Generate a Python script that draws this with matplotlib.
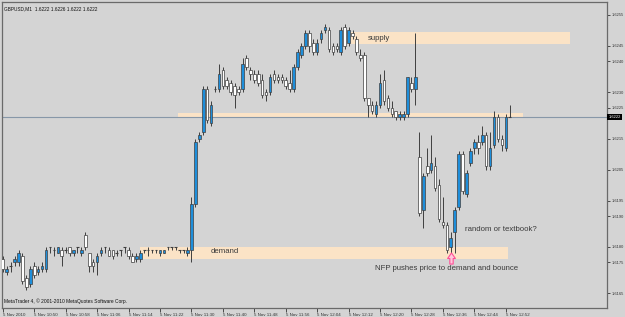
import matplotlib
matplotlib.use("Agg")
import matplotlib.pyplot as plt
from matplotlib.path import Path
import numpy as np

# ---------------- data (GBPUSD M1, 5 Nov 2010) ----------------
opens = [1.6176, 1.6172, 1.6174, 1.6175, 1.6175, 1.6177, 1.6170, 1.6168, 1.6174, 1.6172,
         1.6173, 1.6173, 1.6180, 1.6179, 1.6178, 1.6179, 1.6179, 1.6180, 1.6178, 1.6180,
         1.6178, 1.6184, 1.6178, 1.6175, 1.6175, 1.6178, 1.6180, 1.6179, 1.6179, 1.6178,
         1.6179, 1.6180, 1.6179, 1.6177, 1.6176, 1.6176, 1.6179, 1.6179, 1.6179, 1.6179,
         1.6178, 1.6178, 1.6180, 1.6180, 1.6180, 1.6179, 1.6179, 1.6178, 1.6179, 1.6194,
         1.6215, 1.6217, 1.6231, 1.6220, 1.6231, 1.6231, 1.6237, 1.6234, 1.6233, 1.6232,
         1.6231, 1.6231, 1.6241, 1.6237, 1.6236, 1.6236, 1.6234, 1.6230, 1.6230, 1.6236,
         1.6235, 1.6235, 1.6234, 1.6233, 1.6231, 1.6238, 1.6242, 1.6245, 1.6249, 1.6246,
         1.6243, 1.6247, 1.6250, 1.6250, 1.6245, 1.6245, 1.6243, 1.6251, 1.6246, 1.6249,
         1.6247, 1.6242, 1.6242, 1.6228, 1.6226, 1.6223, 1.6226, 1.6234, 1.6228, 1.6225,
         1.6224, 1.6222, 1.6222, 1.6223, 1.6233, 1.6231, 1.6209, 1.6192, 1.6206, 1.6205,
         1.6206, 1.6200, 1.6188, 1.6187, 1.6180, 1.6185, 1.6193, 1.6210, 1.6197, 1.6207,
         1.6212, 1.6214, 1.6214, 1.6216, 1.6206, 1.6213, 1.6222, 1.6215, 1.6212, 1.6222]
highs = [1.6177, 1.6174, 1.6175, 1.6177, 1.6179, 1.6178, 1.6171, 1.6174, 1.6175, 1.6174,
         1.6175, 1.6180, 1.6180, 1.6180, 1.6180, 1.6180, 1.6180, 1.6180, 1.6179, 1.6180,
         1.6180, 1.6185, 1.6178, 1.6176, 1.6178, 1.6180, 1.6180, 1.6180, 1.6179, 1.6179,
         1.6179, 1.6180, 1.6180, 1.6178, 1.6178, 1.6179, 1.6179, 1.6180, 1.6179, 1.6179,
         1.6179, 1.6179, 1.6180, 1.6180, 1.6180, 1.6179, 1.6179, 1.6180, 1.6196, 1.6215,
         1.6217, 1.6232, 1.6232, 1.6227, 1.6232, 1.6239, 1.6238, 1.6235, 1.6234, 1.6233,
         1.6232, 1.6241, 1.6242, 1.6238, 1.6237, 1.6237, 1.6236, 1.6231, 1.6236, 1.6237,
         1.6236, 1.6236, 1.6235, 1.6237, 1.6239, 1.6244, 1.6246, 1.6250, 1.6250, 1.6247,
         1.6247, 1.6250, 1.6252, 1.6251, 1.6246, 1.6246, 1.6251, 1.6252, 1.6251, 1.6250,
         1.6248, 1.6244, 1.6243, 1.6228, 1.6227, 1.6227, 1.6236, 1.6237, 1.6229, 1.6227,
         1.6224, 1.6224, 1.6224, 1.6235, 1.6235, 1.6249, 1.6217, 1.6204, 1.6212, 1.6216,
         1.6209, 1.6202, 1.6196, 1.6188, 1.6185, 1.6193, 1.6211, 1.6211, 1.6205, 1.6212,
         1.6215, 1.6216, 1.6219, 1.6217, 1.6217, 1.6224, 1.6223, 1.6216, 1.6223, 1.6226]
lows = [1.6172, 1.6171, 1.6172, 1.6174, 1.6174, 1.6168, 1.6166, 1.6167, 1.6170, 1.6171,
        1.6172, 1.6172, 1.6178, 1.6177, 1.6178, 1.6174, 1.6178, 1.6177, 1.6177, 1.6178,
        1.6177, 1.6179, 1.6172, 1.6172, 1.6171, 1.6177, 1.6178, 1.6177, 1.6176, 1.6177,
        1.6177, 1.6178, 1.6176, 1.6175, 1.6175, 1.6175, 1.6178, 1.6177, 1.6178, 1.6178,
        1.6177, 1.6178, 1.6179, 1.6179, 1.6179, 1.6178, 1.6178, 1.6177, 1.6175, 1.6193,
        1.6214, 1.6216, 1.6220, 1.6219, 1.6230, 1.6230, 1.6231, 1.6231, 1.6229, 1.6225,
        1.6229, 1.6230, 1.6237, 1.6234, 1.6233, 1.6232, 1.6228, 1.6227, 1.6229, 1.6233,
        1.6233, 1.6233, 1.6231, 1.6230, 1.6230, 1.6237, 1.6241, 1.6244, 1.6243, 1.6242,
        1.6242, 1.6246, 1.6249, 1.6243, 1.6242, 1.6243, 1.6242, 1.6244, 1.6245, 1.6247,
        1.6242, 1.6240, 1.6227, 1.6222, 1.6223, 1.6222, 1.6225, 1.6226, 1.6224, 1.6222,
        1.6221, 1.6221, 1.6221, 1.6222, 1.6230, 1.6226, 1.6190, 1.6186, 1.6203, 1.6204,
        1.6198, 1.6188, 1.6186, 1.6178, 1.6178, 1.6178, 1.6192, 1.6197, 1.6196, 1.6206,
        1.6210, 1.6210, 1.6213, 1.6205, 1.6205, 1.6212, 1.6214, 1.6211, 1.6211, 1.6222]
closes = [1.6173, 1.6173, 1.6174, 1.6176, 1.6178, 1.6169, 1.6167, 1.6173, 1.6171, 1.6173,
          1.6174, 1.6179, 1.6180, 1.6179, 1.6180, 1.6177, 1.6179, 1.6178, 1.6179, 1.6180,
          1.6179, 1.6180, 1.6174, 1.6174, 1.6177, 1.6179, 1.6180, 1.6177, 1.6177, 1.6178,
          1.6179, 1.6180, 1.6177, 1.6175, 1.6177, 1.6178, 1.6179, 1.6179, 1.6179, 1.6179,
          1.6179, 1.6179, 1.6180, 1.6180, 1.6180, 1.6179, 1.6179, 1.6179, 1.6194, 1.6214,
          1.6216, 1.6231, 1.6221, 1.6226, 1.6231, 1.6236, 1.6232, 1.6232, 1.6230, 1.6229,
          1.6230, 1.6239, 1.6238, 1.6236, 1.6234, 1.6233, 1.6229, 1.6229, 1.6235, 1.6234,
          1.6234, 1.6234, 1.6232, 1.6231, 1.6238, 1.6243, 1.6245, 1.6249, 1.6245, 1.6243,
          1.6246, 1.6249, 1.6251, 1.6244, 1.6243, 1.6244, 1.6250, 1.6245, 1.6250, 1.6248,
          1.6243, 1.6241, 1.6228, 1.6226, 1.6224, 1.6226, 1.6233, 1.6227, 1.6225, 1.6223,
          1.6222, 1.6223, 1.6223, 1.6235, 1.6231, 1.6235, 1.6191, 1.6203, 1.6204, 1.6207,
          1.6199, 1.6189, 1.6187, 1.6179, 1.6183, 1.6192, 1.6210, 1.6198, 1.6204, 1.6211,
          1.6214, 1.6212, 1.6216, 1.6206, 1.6212, 1.6222, 1.6215, 1.6213, 1.6222, 1.6222]

time_ticks = [0, 8, 16, 24, 32, 40, 48, 56, 64, 72, 80, 88, 96, 104, 112, 120, 128]
time_labels = ["5 Nov 2010", "5 Nov 10:50", "5 Nov 10:58", "5 Nov 11:06", "5 Nov 11:14",
               "5 Nov 11:22", "5 Nov 11:30", "5 Nov 11:40", "5 Nov 11:48", "5 Nov 11:56",
               "5 Nov 12:04", "5 Nov 12:12", "5 Nov 12:20", "5 Nov 12:28", "5 Nov 12:36",
               "5 Nov 12:44", "5 Nov 12:52"]
price_ticks = [1.6255, 1.6245, 1.6240, 1.6230, 1.6225, 1.6215, 1.6205, 1.6195, 1.6190,
               1.6180, 1.6175, 1.6165]
price_labels = ["1.6255", "1.6245", "1.6240", "1.6230", "1.6225", "1.6215", "1.6205",
                "1.6195", "1.6190", "1.6180", "1.6175", "1.6165"]

# zones: (start bar, end bar, low price, high price)
supply_zone = (88.3, 144.3, 1.62455, 1.62495)
mid_zone = (44.6, 132.4, 1.62216, 1.62234)
demand_zone = (34.9, 128.6, 1.61761, 1.61800)
current_price = 1.6222
arrow_bar = 114

# ---------------- drawing ----------------
BG = "#D4D4D4"
BULL = "#1E8EDA"
BEAR = "#FFFFFF"
EDGE = "#3F3F3F"
ZONE = "#FBE3C6"

fig = plt.figure(figsize=(6.25, 3.17), dpi=100, facecolor=BG)
ax = fig.add_axes([2 / 625, 1 - 308 / 317, 605 / 625, 306 / 317])
ax.set_facecolor(BG)
ax.set_xlim(-0.2, 153.75)
ax.set_ylim(1.61603, 1.62591)

for (x0, x1, lo, hi) in (supply_zone, mid_zone, demand_zone):
    ax.fill_between([x0, x1], lo, hi, color=ZONE, lw=0, zorder=1)

ax.axhline(current_price, color="#8797A8", lw=0.8, zorder=2)

x = np.arange(len(opens))
o = np.array(opens); h = np.array(highs); l = np.array(lows); c = np.array(closes)
w = 0.66
ax.vlines(x, l, h, color=EDGE, lw=0.7, zorder=3)
for xi, oi, ci in zip(x, o, c):
    if abs(ci - oi) < 1e-9:
        ax.hlines(oi, xi - w / 2, xi + w / 2, color=EDGE, lw=0.8, zorder=4)
    else:
        col = BULL if ci > oi else BEAR
        ax.bar(xi, ci - oi, bottom=oi, width=w, color=col, edgecolor=EDGE,
               linewidth=0.5, zorder=4)

fs_ann = 5.6
txt_col = "#3A3A3A"
ax.text(92.8, 1.62474, "supply", fontsize=fs_ann, color=txt_col, va="center",
        family="Liberation Sans", zorder=5)
ax.text(53.0, 1.61784, "demand", fontsize=fs_ann, color=txt_col, va="center",
        family="Liberation Sans", zorder=5)
ax.text(117.7, 1.61856, "random or textbook?", fontsize=fs_ann, color=txt_col,
        va="center", family="Liberation Sans", zorder=5)
ax.text(94.6, 1.61732, "NFP pushes price to demand and bounce", fontsize=fs_ann,
        color=txt_col, va="center", family="Liberation Sans", zorder=5)

# up-arrow marker (outlined) below the NFP low
arrow_verts = [(-0.35, 0.0), (0.0, 0.5), (0.35, 0.0), (0.15, 0.0), (0.15, -0.5),
               (-0.15, -0.5), (-0.15, 0.0), (-0.35, 0.0)]
arrow_path = Path(arrow_verts, closed=True)
ax.plot([arrow_bar], [lows[arrow_bar] - 0.00017], marker=arrow_path, markersize=8,
        markerfacecolor="#FFC8DC", markeredgecolor="#FF4F97", markeredgewidth=0.8,
        linestyle="none", zorder=5)

ax.text(0.004, 0.985, "GBPUSD,M1  1.6222 1.6226 1.6222 1.6222", transform=ax.transAxes,
        fontsize=3.4, color="#111111", va="top", ha="left", family="Liberation Sans")
ax.text(0.004, 0.012, "MetaTrader 4, \u00a9 2001-2010 MetaQuotes Software Corp.",
        transform=ax.transAxes, fontsize=3.5, color="#111111", va="bottom", ha="left",
        family="Liberation Sans")

for s in ax.spines.values():
    s.set_color("#6A6A6A")
    s.set_linewidth(0.9)

ax.yaxis.tick_right()
ax.set_yticks(price_ticks)
ax.set_yticklabels(price_labels)
ax.tick_params(axis="y", direction="out", length=2, width=0.6, colors="#333333",
               labelsize=2.9, pad=1.2)
ax.set_xticks(time_ticks)
ax.set_xticklabels(time_labels, ha="left")
ax.tick_params(axis="x", direction="out", length=3, width=0.6, colors="#333333",
               labelsize=3.2, pad=0.5)
for lab in ax.get_xticklabels() + ax.get_yticklabels():
    lab.set_family("Liberation Sans")

ax.text(1.002, current_price, "1.6222", transform=ax.get_yaxis_transform(),
        fontsize=2.9, color="white", va="center", ha="left", family="Liberation Sans",
        bbox=dict(boxstyle="square,pad=0.25", fc="black", ec="black", lw=0), zorder=6,
        clip_on=False)

fig.savefig("out.png", dpi=100, facecolor=BG)
